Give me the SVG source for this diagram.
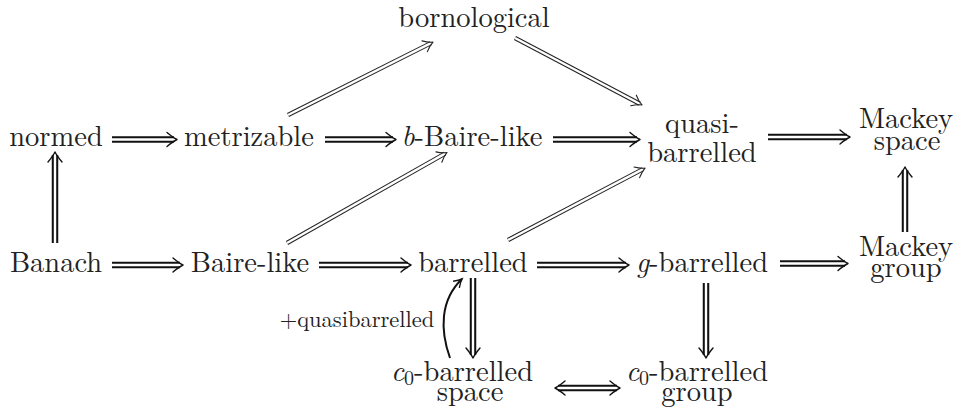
<svg xmlns="http://www.w3.org/2000/svg" width="954" height="412" viewBox="0 0 954 412">
<style>
.t{font-size:28.5px;fill:#222;text-anchor:middle}
.sm{font-size:22.5px;fill:#222;text-anchor:middle}
.it{font-style:italic}
.o{stroke:#111;stroke-width:6.5;fill:none}
.i{stroke:#fff;stroke-width:2.4;fill:none}
.h{stroke:#111;stroke-width:1.4;fill:none;stroke-linecap:round;stroke-linejoin:round}
.o2{stroke:#222;stroke-width:4.4;fill:none}
.i2{stroke:#fff;stroke-width:2.4;fill:none}
.h2{stroke:#222;stroke-width:1.1;fill:none;stroke-linecap:round;stroke-linejoin:round}
.c{stroke:#111;stroke-width:2;fill:none}
</style>
<defs>
<marker id="ah" markerUnits="userSpaceOnUse" markerWidth="14" markerHeight="14" viewBox="-10 -7 14 14" refX="0" refY="0" orient="auto">
<path d="M-8,-4.5 Q-3,-1 0,0 Q-3,1 -8,4.5" fill="none" stroke="#111" stroke-width="1.4"/>
</marker>
</defs>
<g id="nodes" font-family="Latin Modern Roman, Liberation Serif, serif">
<g id="normed"><text class="t" font-family="Latin Modern Roman, Liberation Serif, serif" x="56" y="146">normed</text></g>
<g id="metrizable"><text class="t" font-family="Latin Modern Roman, Liberation Serif, serif" x="249" y="146">metrizable</text></g>
<g id="bornological"><text class="t" font-family="Latin Modern Roman, Liberation Serif, serif" x="474" y="27">bornological</text></g>
<g id="bbairelike"><text class="t" font-family="Latin Modern Roman, Liberation Serif, serif" x="472" y="146"><tspan class="it">b</tspan>-Baire-like</text></g>
<g id="quasibarrelled"><text class="t" font-family="Latin Modern Roman, Liberation Serif, serif" x="702" y="133"><tspan x="702">quasi-</tspan><tspan x="702" y="162">barrelled</tspan></text></g>
<g id="mackeyspace"><text class="t" font-family="Latin Modern Roman, Liberation Serif, serif" x="906" y="128"><tspan x="906">Mackey</tspan><tspan x="907" y="150">space</tspan></text></g>
<g id="banach"><text class="t" font-family="Latin Modern Roman, Liberation Serif, serif" x="56" y="272">Banach</text></g>
<g id="bairelike"><text class="t" font-family="Latin Modern Roman, Liberation Serif, serif" x="250" y="272">Baire-like</text></g>
<g id="barrelled"><text class="t" font-family="Latin Modern Roman, Liberation Serif, serif" x="473" y="272">barrelled</text></g>
<g id="gbarrelled"><text class="t" font-family="Latin Modern Roman, Liberation Serif, serif" x="702" y="272"><tspan class="it">g</tspan>-barrelled</text></g>
<g id="mackeygroup"><text class="t" font-family="Latin Modern Roman, Liberation Serif, serif" x="906" y="256"><tspan x="906">Mackey</tspan><tspan x="906" y="277">group</tspan></text></g>
<g id="c0space"><text class="t" font-family="Latin Modern Roman, Liberation Serif, serif" x="462" y="381"><tspan class="it">c</tspan><tspan font-size="20" dy="4">0</tspan><tspan dy="-4">-barrelled</tspan><tspan x="470" y="401">space</tspan></text></g>
<g id="c0group"><text class="t" font-family="Latin Modern Roman, Liberation Serif, serif" x="697" y="381"><tspan class="it">c</tspan><tspan font-size="20" dy="4">0</tspan><tspan dy="-4">-barrelled</tspan><tspan x="697" y="401">group</tspan></text></g>
</g>
<g id="connectors">
<g transform="translate(112,139.5)"><path class="o" d="M0,0H62"/><path class="i" d="M0,0H62"/><path class="h" d="M55,-7Q61,-2 65,0Q61,2 55,7"/></g>
<g transform="translate(325,139.5)"><path class="o" d="M0,0H68"/><path class="i" d="M0,0H68"/><path class="h" d="M61,-7Q67,-2 71,0Q67,2 61,7"/></g>
<g transform="translate(553,139.5)"><path class="o" d="M0,0H84"/><path class="i" d="M0,0H84"/><path class="h" d="M77,-7Q83,-2 87,0Q83,2 77,7"/></g>
<g transform="translate(768,137)"><path class="o" d="M0,0H79"/><path class="i" d="M0,0H79"/><path class="h" d="M72,-7Q78,-2 82,0Q78,2 72,7"/></g>
<g transform="translate(112,265)"><path class="o" d="M0,0H68"/><path class="i" d="M0,0H68"/><path class="h" d="M61,-7Q67,-2 71,0Q67,2 61,7"/></g>
<g transform="translate(319,265)"><path class="o" d="M0,0H89"/><path class="i" d="M0,0H89"/><path class="h" d="M82,-7Q88,-2 92,0Q88,2 82,7"/></g>
<g transform="translate(537,265)"><path class="o" d="M0,0H89"/><path class="i" d="M0,0H89"/><path class="h" d="M82,-7Q88,-2 92,0Q88,2 82,7"/></g>
<g transform="translate(780,263.5)"><path class="o" d="M0,0H65"/><path class="i" d="M0,0H65"/><path class="h" d="M58,-7Q64,-2 68,0Q64,2 58,7"/></g>
<g transform="translate(55,243) rotate(-90)"><path class="o" d="M0,0H88"/><path class="i" d="M0,0H88"/><path class="h" d="M81,-7Q87,-2 91,0Q87,2 81,7"/></g>
<g transform="translate(905,232) rotate(-90)"><path class="o" d="M0,0H62"/><path class="i" d="M0,0H62"/><path class="h" d="M55,-7Q61,-2 65,0Q61,2 55,7"/></g>
<g transform="translate(473,278) rotate(90)"><path class="o" d="M0,0H77"/><path class="i" d="M0,0H77"/><path class="h" d="M70,-7Q76,-2 80,0Q76,2 70,7"/></g>
<g transform="translate(706,283) rotate(90)"><path class="o" d="M0,0H72"/><path class="i" d="M0,0H72"/><path class="h" d="M65,-7Q71,-2 75,0Q71,2 65,7"/></g>
<g transform="translate(555,388)"><path class="o" d="M3,0H62"/><path class="i" d="M3,0H62"/><path class="h" d="M10,-7Q4,-2 0,0Q4,2 10,7"/><path class="h" d="M55,-7Q61,-2 65,0Q61,2 55,7"/></g>
<g transform="translate(288,115) rotate(-26.7)"><path class="o2" d="M0,0H160"/><path class="i2" d="M0,0H160"/><path class="h2" d="M153,-6Q158,-1.5 162.3,0Q158,1.5 153,6"/></g>
<g transform="translate(515,38) rotate(27.8)"><path class="o2" d="M0,0H141"/><path class="i2" d="M0,0H141"/><path class="h2" d="M134,-6Q139,-1.5 143.6,0Q139,1.5 134,6"/></g>
<g transform="translate(287,243) rotate(-29.5)"><path class="o2" d="M0,0H181.5"/><path class="i2" d="M0,0H181.5"/><path class="h2" d="M174.5,-6Q179.5,-1.5 183.9,0Q179.5,1.5 174.5,6"/></g>
<g transform="translate(508,240) rotate(-27.7)"><path class="o2" d="M0,0H152.5"/><path class="i2" d="M0,0H152.5"/><path class="h2" d="M145.5,-6Q150.5,-1.5 154.8,0Q150.5,1.5 145.5,6"/></g>
<path class="c" d="M450,358C440,330 440,300 462,279" marker-end="url(#ah)"/>
<text class="sm" font-family="Latin Modern Roman, Liberation Serif, serif" x="357" y="327">+quasibarrelled</text>
</g>
</svg>
